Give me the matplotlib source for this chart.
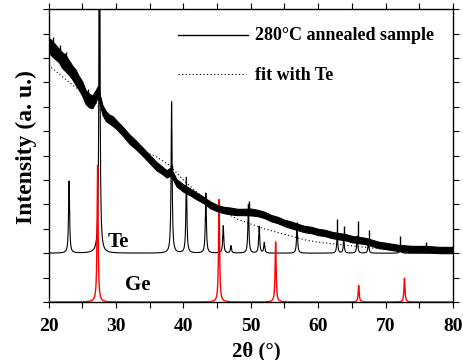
import numpy as np
import matplotlib
matplotlib.use("Agg")
import matplotlib.pyplot as plt

plt.rcParams['font.family'] = ['Liberation Serif', 'DejaVu Serif']
plt.rcParams['font.weight'] = 'bold'

# ---- data (intensity in arbitrary units) ----
# measured 280°C annealed sample: band centre and half-thickness (noise)
meas_2theta = [20, 20.5, 21, 21.5, 22, 22.5, 23, 23.5, 24, 24.5, 25, 25.5, 26, 26.5, 27, 27.3,
               27.8, 28, 28.5, 29, 29.5, 30, 31, 32, 33, 34, 35, 36, 37, 37.5, 38, 38.5, 39,
               40, 41, 42, 43, 44, 45, 46, 47, 48, 49, 50, 51, 52, 53, 54, 55, 56, 57, 58,
               59, 60, 61, 62, 63, 64, 65, 66, 67, 68, 69, 70, 72, 74, 76, 78, 80]
meas_center = [10.53, 10.40, 10.25, 10.12, 9.92, 9.80, 9.62, 9.42, 9.22, 8.98, 8.75, 8.40, 8.26,
               8.20, 8.44, 8.62, 8.10, 7.87, 7.62, 7.50, 7.42, 7.29, 7.00, 6.68, 6.43, 6.15, 5.86,
               5.57, 5.37, 5.25, 5.33, 5.16, 4.88, 4.67, 4.51, 4.34, 4.18, 3.98, 3.85, 3.77, 3.73,
               3.69, 3.69, 3.69, 3.65, 3.57, 3.44, 3.36, 3.24, 3.16, 3.07, 2.99, 2.95, 2.87, 2.83,
               2.75, 2.70, 2.66, 2.58, 2.54, 2.50, 2.42, 2.34, 2.30, 2.21, 2.17, 2.17, 2.13, 2.13]
meas_half = [0.30, 0.32, 0.30, 0.28, 0.32, 0.34, 0.30, 0.28, 0.31, 0.28, 0.30, 0.28, 0.28, 0.26,
             0.24, 0.22, 0.20, 0.20, 0.20, 0.18, 0.20, 0.18, 0.18, 0.19, 0.18, 0.17, 0.17, 0.17,
             0.15, 0.15, 0.16, 0.15, 0.15, 0.15, 0.14, 0.14, 0.13, 0.14, 0.13, 0.13, 0.14, 0.13,
             0.13, 0.14, 0.13, 0.13, 0.13, 0.13, 0.13, 0.14, 0.13, 0.13, 0.13, 0.13, 0.13, 0.13,
             0.13, 0.13, 0.13, 0.13, 0.13, 0.13, 0.13, 0.13, 0.13, 0.13, 0.13, 0.13, 0.13]
# sharp spikes of the measured pattern (position, top intensity)
meas_peak_pos = [20.6, 21.7, 22.6, 25.9, 27.55, 38.3, 49.7, 56.9, 62.8, 63.8, 65.9, 67.5, 72.2, 76.0]
meas_peak_top = [10.85, 10.55, 10.25, 8.75, 12.5, 5.60, 4.14, 3.27, 3.39, 3.11, 3.31, 2.95, 2.71, 2.46]

# fit with Te (background level)
fit_2theta = [20, 22, 24, 26, 27, 28, 30, 32, 34, 36, 38, 40, 42, 44, 46, 48, 50, 52, 54, 56, 58, 60, 65, 70, 75, 80]
fit_int = [9.70, 9.25, 8.80, 8.40, 8.15, 7.80, 7.15, 6.60, 6.20, 5.95, 5.60, 5.00, 4.50, 4.05,
           3.70, 3.40, 3.20, 3.00, 2.85, 2.70, 2.55, 2.45, 2.30, 2.15, 2.08, 2.05]

# Te reference pattern (offset 2)
te_offset = 2.0
te_pos = [23.05, 27.56, 38.26, 40.45, 43.34, 45.92, 47.06, 49.65, 51.25, 52.0, 56.87, 62.83, 63.80, 65.80, 67.45, 72.2]
te_int = [2.95, 15.0, 6.20, 3.10, 2.46, 1.12, 0.30, 2.00, 1.10, 0.42, 1.15, 0.75, 0.55, 0.70, 0.45, 0.30]

# Ge reference pattern (offset 0)
ge_offset = 0.0
ge_pos = [27.28, 45.30, 53.69, 66.01, 72.80]
ge_int = [5.60, 4.20, 2.46, 0.68, 0.97]

x_ticks = [20, 30, 40, 50, 60, 70, 80]
legend_labels = ['280°C annealed sample', 'fit with Te']


def profile(x, pos, inten, w=0.09):
    y = np.zeros_like(x)
    for p, h in zip(pos, inten):
        y += h * w**2 / ((x - p)**2 + w**2)
    return y


fig = plt.figure(figsize=(4.63, 3.60), dpi=100)
ax = fig.add_axes([48.5/463, 1-302/360, (453-48.5)/463, (302-9.2)/360])

grid = np.linspace(20, 80, 6001)

# Ge
ax.plot(grid, ge_offset + profile(grid, ge_pos, ge_int), color='#ff0000', lw=1.0, zorder=3)
# Te
ax.plot(grid, te_offset + profile(grid, te_pos, te_int), color='black', lw=0.8, zorder=2)

# measured band
mc = np.array(meas_center); mh = np.array(meas_half)
ax.fill_between(meas_2theta, mc - mh, mc + mh, color='black', lw=0.8, zorder=4)
bc = np.interp(meas_peak_pos, meas_2theta, meas_center)
ax.vlines(meas_peak_pos, bc, meas_peak_top, color='black', lw=1.0, zorder=4)

ax.plot(fit_2theta, fit_int, color='black', lw=0.8, ls=(0, (1, 2.2)), zorder=5)

ax.set_xlim(20, 80)
ax.set_ylim(0, 12)
ax.set_xticks(x_ticks)
ax.set_xticks(np.arange(25, 80, 10), minor=True)
ax.set_yticks(np.arange(0, 13, 1))
ax.set_yticklabels([])
ax.tick_params(axis='both', which='both', direction='out', length=4.5, width=0.8,
               labelsize=14, pad=7)
ax.tick_params(top=True, right=True, which='both')
for s in ax.spines.values():
    s.set_linewidth(1.0)

ax.set_xlabel('2θ (°)', fontsize=15, fontweight='bold')
ax.xaxis.set_label_coords((256 - 48.5) / 404.5, (302 - 341) / 292.8)
ax.set_ylabel('Intensity (a. u.)', fontsize=17, fontweight='bold')
ax.yaxis.set_label_coords((37 - 48.5) / 404.5, (302 - 147) / 292.8)

ax.text(30.4, 2.46, 'Te', fontsize=15, fontweight='bold', ha='center', va='center')
ax.text(33.3, 0.7, 'Ge', fontsize=15, fontweight='bold', ha='center', va='center')

# legend drawn in axes fraction
def fx(px):
    return (px - 48.5) / 404.5

def fy(py):
    return (302 - py) / 292.8

ax.plot([fx(178), fx(248)], [fy(35), fy(35)], transform=ax.transAxes, color='black', lw=1.0)
ax.plot([fx(178), fx(246)], [fy(74), fy(74)], transform=ax.transAxes, color='black', lw=0.8,
        ls=(0, (1, 2.2)))
ax.text(fx(255), fy(36), legend_labels[0], transform=ax.transAxes, fontsize=13,
        fontweight='bold', va='center', ha='left')
ax.text(fx(255), fy(75), legend_labels[1], transform=ax.transAxes, fontsize=13,
        fontweight='bold', va='center', ha='left')

fig.savefig('out.png', dpi=100)
